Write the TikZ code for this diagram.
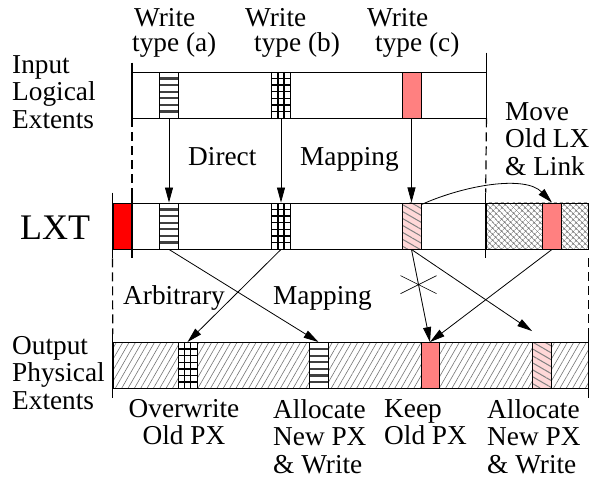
\documentclass[tikz,border=0pt]{standalone}
\usepackage{fontspec}
\setmainfont{Liberation Serif}
\usetikzlibrary{arrows.meta,patterns.meta}
\definecolor{salmon}{RGB}{255,128,128}
\definecolor{pinkish}{RGB}{255,216,216}

\begin{document}
\begin{tikzpicture}[x=1pt,y=-1pt,
    font=\fontsize{27.3}{27.5}\selectfont,
    txt/.style={inner sep=0pt,anchor=base west},
    lbl/.style={inner sep=0pt,anchor=north west,align=left},
    bar/.style={draw,line width=0.9pt,inner sep=0pt,minimum height=46pt},
    blk/.style={draw,line width=0.9pt,inner sep=0pt,minimum width=19pt,minimum height=46pt},
    stripes/.style={blk,fill=white,path picture={
        \foreach \k in {1,...,6}
          \draw[line width=2.2pt,black!75] ([yshift=-\k*6.6pt]path picture bounding box.north west)
            -- ([yshift=-\k*6.6pt]path picture bounding box.north east);}},
    grid/.style={blk,fill=white,path picture={
        \foreach \k in {1,...,6}
          \draw[line width=1.4pt] ([yshift=-\k*6.6pt]path picture bounding box.north west)
            -- ([yshift=-\k*6.6pt]path picture bounding box.north east);
        \foreach \k in {1,2}
          \draw[line width=1.4pt] ([xshift=\k*6.33pt]path picture bounding box.north west)
            -- ([xshift=\k*6.33pt]path picture bounding box.south west);}},
    pinkhatch/.style={blk,preaction={fill=pinkish},pattern={Lines[angle=-30,distance=6pt,line width=1pt]},pattern color=gray},
    arr/.style={-{Triangle[length=15pt,width=8pt]},line width=0.8pt},
    tick/.style={line width=1.2pt},
    gap/.style={line width=1.2pt,dash pattern=on 9pt off 5pt}]
  \useasboundingbox (0,0) rectangle (589,478);

  % the three bars
  \node[bar,minimum width=353.5pt] (inbar) at (309.25,95) {};
  \node[bar,minimum width=455.5pt] (lxbar) at (360.25,226) {};
  \node[bar,minimum width=102pt,pattern={Hatch[angle=45,distance=4pt,line width=0.6pt]},pattern color=black!55] (lxold) at (537,226) {};
  \node[blk,minimum width=19.5pt,fill=red] (lred) at (122.75,226) {};
  \node[bar,minimum width=475pt,pattern={Lines[angle=60,distance=5.5pt,line width=0.6pt]},pattern color=black!55] (outbar) at (350.5,365.5) {};

  % written extents
  \node[stripes] (ia) at (169,95) {};
  \node[grid] (ib) at (281,95) {};
  \node[blk,fill=salmon] (ic) at (411.5,95) {};
  \node[stripes] (la) at (169,226) {};
  \node[grid] (lb) at (281,226) {};
  \node[pinkhatch] (lc) at (411.5,226) {};
  \node[blk,fill=salmon] (ls) at (552,226) {};
  \node[grid] (ob) at (187.5,365.5) {};
  \node[stripes] (oa) at (318.5,365.5) {};
  \node[blk,fill=salmon,minimum width=18pt] (oc) at (430,365.5) {};
  \node[pinkhatch] (op) at (542,365.5) {};

  % ends of the bars
  \draw[tick] ([yshift=9pt]inbar.north west) -- (inbar.south west);
  \draw[tick] ([yshift=19pt]inbar.north east) -- (inbar.south east);
  \draw[gap] (inbar.south west) -- ([yshift=10pt]lxbar.north west);
  \draw[gap] (inbar.south east) -- ([yshift=10pt]lxold.north west);
  \draw[tick] ([yshift=10pt]lxbar.north west) -- ([yshift=-9pt]lxbar.south west);
  \draw[tick] ([yshift=10pt]lred.north west) -- ([yshift=-9pt]lred.south west);
  \draw[tick] ([yshift=10pt]lxold.north west) -- ([yshift=-9pt]lxold.south west);
  \draw[gap] ([yshift=-9pt]lred.south west) -- ([yshift=8pt]outbar.north west);
  \draw[gap] ([yshift=-9pt]lxold.south east) -- ([yshift=8pt]outbar.north east);
  \draw[tick] ([yshift=8pt]outbar.north west) -- ([yshift=-9pt]outbar.south west);
  \draw[tick] ([yshift=8pt]outbar.north east) -- ([yshift=-9pt]outbar.south east);

  % mappings
  \draw[arr] (ia.south) -- (la.north);
  \draw[arr] (ib.south) -- (lb.north);
  \draw[arr] (ic.south) -- (lc.north);
  \draw[arr] ([yshift=-2pt]lc.north east) .. controls (465,185) and (525,175) .. (ls.north);
  \draw[arr] (la.south) -- (oa.north);
  \draw[arr] (lb.south) -- (ob.north);
  \coordinate (optip) at ([yshift=11pt]op.north west);
  \draw[arr] (lc.south) -- coordinate[pos=0.38] (nox) (oc.north);
  \draw[arr] (lc.south) -- (optip);
  \draw[arr] (ls.south) -- (oc.north);
  \draw[line width=0.6pt] ([shift={(-18,-9)}]nox) -- ([shift={(18,9)}]nox)
    ([shift={(-18,9)}]nox) -- ([shift={(18,-9)}]nox);

  % labels
  \node[txt] (wa1) at (134,27) {Write};
  \node[txt] (wa2) at (132,52) {type (a)};
  \node[txt] (wb1) at (245,27) {Write};
  \node[txt] (wb2) at (254,52) {type (b)};
  \node[txt] (wc1) at (367,27) {Write};
  \node[txt] (wc2) at (375,52) {type (c)};
  \node[txt] (direct) at (188,166) {Direct};
  \node[txt] (map1) at (300,166) {Mapping};
  \node[txt] (arb) at (123,305) {Arbitrary};
  \node[txt] (map2) at (273,305) {Mapping};
  \node[txt,font=\fontsize{36}{38}\selectfont] (lxt) at (20,240) {LXT};
  \node[lbl] (inlbl) at (12,55) {Input\\Logical\\Extents};
  \node[lbl] (outlbl) at (12,336) {Output\\Physical\\Extents};
  \node[lbl] (movelbl) at (505,102) {Move\\Old LX\\\& Link};
  \node[lbl,anchor=north,align=center] (owlbl) at (184,399) {Overwrite\\Old PX};
  \node[lbl] (al1) at (273,399) {Allocate\\New PX\\\& Write};
  \node[lbl] (keeplbl) at (384,399) {Keep\\Old PX};
  \node[lbl] (al2) at (487,399) {Allocate\\New PX\\\& Write};
\end{tikzpicture}
\end{document}
